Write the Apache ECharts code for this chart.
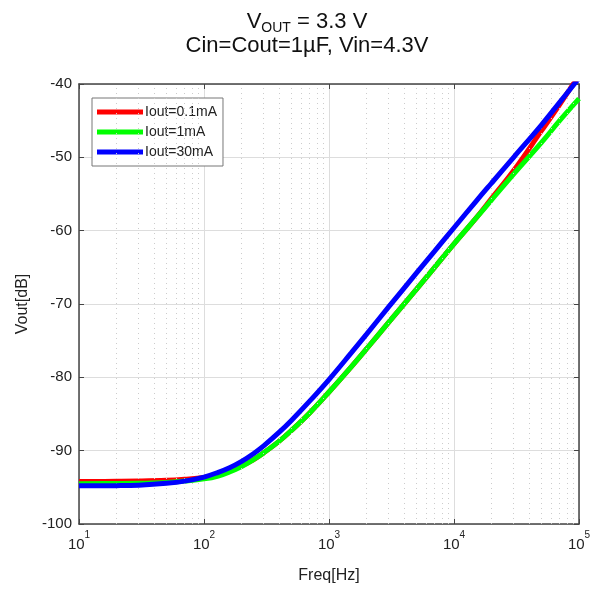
<!DOCTYPE html>
<html>
<head>
<meta charset="utf-8">
<script src="https://cdn.jsdelivr.net/npm/echarts@6/dist/echarts.min.js"></script>
<style>html,body{margin:0;padding:0;background:#fff;}#c{width:597px;height:589px;}</style>
</head>
<body>
<div id="c"></div>
<script>
const freqs = [10,20,30,50,70,100,130,160,200,250,300,400,500,700,1000,1500,2000,3000,5000,7000,10000,15000,20000,30000,50000,70000,100000];
const iout01 = [-94.2,-94.18,-94.15,-94.05,-93.9,-93.65,-93.25,-92.75,-92.05,-91.2,-90.3,-88.7,-87.25,-84.85,-82.0,-78.6,-76.1,-72.5,-68.0,-65.0,-61.8,-58.3,-55.6,-51.8,-46.4,-42.8,-38.8];
const iout1  = [-94.5,-94.48,-94.45,-94.35,-94.15,-93.85,-93.45,-92.9,-92.15,-91.2,-90.3,-88.7,-87.25,-84.85,-82.0,-78.6,-76.1,-72.5,-68.0,-65.0,-61.8,-58.3,-55.8,-52.3,-48.0,-45.0,-42.0];
const iout30 = [-94.8,-94.77,-94.7,-94.45,-94.15,-93.6,-92.95,-92.32,-91.45,-90.38,-89.35,-87.48,-85.88,-83.25,-80.3,-76.7,-74.1,-70.4,-65.8,-62.8,-59.6,-56.0,-53.5,-50.0,-45.6,-42.5,-39.2];
const seriesNames = ['Iout=0.1mA','Iout=1mA','Iout=30mA'];
const seriesColors = ['#ff0000','#00ff00','#0000ff'];
const minorFreqs = [20,30,40,50,60,70,80,90,200,300,400,500,600,700,800,900,2000,3000,4000,5000,6000,7000,8000,9000,20000,30000,40000,50000,60000,70000,80000,90000];

const chart = echarts.init(document.getElementById('c'));
const allData = [iout01, iout1, iout30];
const font = 'Liberation Sans, Arial, sans-serif';
const lineSeries = allData.map((vals, i) => ({
  name: seriesNames[i],
  type: 'line',
  data: freqs.map((f, j) => [f, vals[j]]),
  showSymbol: false,
  smooth: 0.4,
  clip: true,
  lineStyle: { width: 5, color: seriesColors[i] },
  itemStyle: { color: seriesColors[i] },
  z: 3 + i
}));
chart.setOption({
  animation: false,
  backgroundColor: '#fff',
  title: {
    text: '{a|V}{s|OUT}{a| = 3.3 V}\n{a|Cin=Cout=1µF, Vin=4.3V}',
    left: 302, textAlign: 'center', top: 4,
    textStyle: {
      fontWeight: 'normal',
      rich: {
        a: { fontFamily: font, fontSize: 22, fontWeight: 'normal', color: '#111', lineHeight: 24, verticalAlign: 'bottom' },
        s: { fontFamily: font, fontSize: 14, fontWeight: 'normal', color: '#111', lineHeight: 24, verticalAlign: 'bottom', padding: [0, 0, -2, 0] }
      }
    }
  },
  legend: {
    data: seriesNames,
    orient: 'vertical',
    left: 92, top: 98,
    icon: 'rect', itemWidth: 46, itemHeight: 5, itemGap: 6,
    padding: [7, 6, 7, 5],
    borderColor: '#777', borderWidth: 1, backgroundColor: '#fff',
    textStyle: { fontFamily: font, fontSize: 14, color: '#222', padding: [0, 0, 0, -3] }
  },
  grid: { left: 79, right: 18, top: 84, bottom: 61, containLabel: false },
  xAxis: [{
    type: 'log', logBase: 10, min: 10, max: 100000,
    name: 'Freq[Hz]', nameLocation: 'middle', nameGap: 44,
    nameTextStyle: { fontFamily: font, fontSize: 16, color: '#222' },
    axisLine: { show: true, lineStyle: { color: '#444', width: 1.5 } },
    axisTick: { show: true, inside: true, length: 5, lineStyle: { color: '#444' } },
    axisLabel: {
      margin: 6,
      formatter: v => '{b|10}{s|' + Math.round(Math.log10(v)) + '}',
      rich: {
        b: { fontFamily: font, fontSize: 15, color: '#222', lineHeight: 22, verticalAlign: 'bottom' },
        s: { fontFamily: font, fontSize: 10, color: '#222', lineHeight: 12, verticalAlign: 'top' }
      }
    },
    splitLine: { show: true, lineStyle: { color: '#dddddd', width: 1 } }
  }, {
    type: 'log', logBase: 10, min: 10, max: 100000, position: 'top',
    axisLine: { show: true, lineStyle: { color: '#444', width: 1.5 } },
    axisTick: { show: true, inside: true, length: 5, lineStyle: { color: '#444' } },
    axisLabel: { show: false }, splitLine: { show: false }
  }],
  yAxis: [{
    type: 'value', min: -100, max: -40, interval: 10,
    name: 'Vout[dB]', nameLocation: 'middle', nameGap: 38, nameRotate: 90,
    nameTextStyle: { fontFamily: font, fontSize: 16, color: '#222' },
    axisLine: { show: true, lineStyle: { color: '#444', width: 1.5 } },
    axisTick: { show: true, inside: true, length: 5, lineStyle: { color: '#444' } },
    axisLabel: { fontFamily: font, fontSize: 15, color: '#222', margin: 7 },
    splitLine: { show: true, lineStyle: { color: '#dddddd', width: 1 } }
  }, {
    type: 'value', min: -100, max: -40, interval: 10, position: 'right',
    axisLine: { show: true, lineStyle: { color: '#444', width: 1.5 } },
    axisTick: { show: true, inside: true, length: 5, lineStyle: { color: '#444' } },
    axisLabel: { show: false }, splitLine: { show: false }
  }],
  series: [{
    name: 'minorGrid', type: 'line', data: [], z: 1, silent: true,
    markLine: {
      silent: true, symbol: 'none', animation: false,
      label: { show: false },
      lineStyle: { type: [1, 4], color: '#cccccc', width: 1 },
      emphasis: { disabled: true },
      data: minorFreqs.map(f => ({ xAxis: f }))
    }
  }].concat(lineSeries)
});
</script>
</body>
</html>
